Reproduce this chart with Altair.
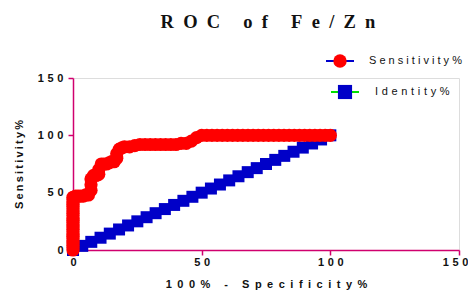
import altair as alt
import pandas as pd

# Sensitivity% (red) ROC points: (100% - Specificity%, Sensitivity%)
sens_x = [0, 0, 0, 0, 0, 0, 0, 0, 0, 0, 0, 0, 0, 0, 0, 0, 0, 0, 0, 0, 0, 0, 0, 0,
          1, 2, 3, 4, 5, 6, 7, 7, 7, 8, 9, 10, 10, 11, 12, 13, 14, 15, 16, 17, 17, 18, 19, 20,
          22, 24, 26, 28, 30, 32, 34, 36, 38, 40, 42, 44, 46, 48, 50,
          52, 54, 56, 58, 60, 62, 64, 66, 68, 70, 72, 74, 76, 78, 80, 82, 84, 86, 88, 90,
          92, 94, 96, 98, 100]
sens_y = [0, 2, 4, 6, 8, 10, 12, 14, 16, 18, 20, 22, 24, 26, 28, 30, 32, 34, 36, 38, 40, 42, 44, 46,
          47, 47, 47, 47, 48, 48, 52, 57, 62, 65, 65, 66, 70, 75, 75, 75, 76, 77, 77, 80, 84, 88, 89, 90,
          90, 91, 92, 92, 92, 92, 92, 92, 92, 92, 93, 93, 95, 98, 100,
          100, 100, 100, 100, 100, 100, 100, 100, 100, 100, 100, 100, 100, 100, 100, 100, 100, 100, 100, 100,
          100, 100, 100, 100, 100]

# Identity% (blue) diagonal
ident_x = [0, 3.6, 7.1, 10.7, 14.3, 17.9, 21.4, 25.0, 28.6, 32.1, 35.7, 39.3, 42.9, 46.4, 50.0,
           53.6, 57.1, 60.7, 64.3, 67.9, 71.4, 75.0, 78.6, 82.1, 85.7, 89.3, 92.9, 96.4, 100]
ident_y = [0, 3.6, 7.1, 10.7, 14.3, 17.9, 21.4, 25.0, 28.6, 32.1, 35.7, 39.3, 42.9, 46.4, 50.0,
           53.6, 57.1, 60.7, 64.3, 67.9, 71.4, 75.0, 78.6, 82.1, 85.7, 89.3, 92.9, 96.4, 100]

axis_ticks = [0, 50, 100, 150]
title_text = "ROC of Fe/Zn"
x_title = "100% - Specificity%"
y_title = "Sensitivity%"
legend_labels = ["Sensitivity%", "Identity%"]

EN = "\u2002"
THREE = "\u2004"
THIN = "\u2009"


def spaced(s, sep):
    return sep.join(s)


sens_df = pd.DataFrame({"x": sens_x, "y": sens_y})
ident_df = pd.DataFrame({"x": ident_x, "y": ident_y})

AX = "#D0006E"
RED = "#FF0000"
BLUE = "#0000C8"

xscale = alt.Scale(domain=[0, 150], nice=False, zero=False)
yscale = alt.Scale(domain=[0, 150], nice=False, zero=False)

label_expr = "join(split(datum.label, ''), '" + THREE + "')"

xaxis = alt.Axis(values=axis_ticks, grid=False, domainColor=AX, tickColor=AX, tickSize=5,
                 domainWidth=1.5, tickWidth=1.5, labelFlush=False,
                 labelAlign=alt.ExprRef("datum.value == 150 ? 'right' : 'center'"),
                 labelOffset=alt.ExprRef("datum.value == 150 ? 9 : 0"),
                 labelFont="Liberation Sans", labelFontWeight="bold", labelFontSize=11,
                 labelColor="#111111", labelPadding=1, labelExpr=label_expr,
                 title=spaced(x_title, EN), titleFont="Liberation Sans", titleFontWeight="bold",
                 titleFontSize=11, titleColor="#111111", titleY=34, titleBaseline="middle")
yaxis = alt.Axis(values=axis_ticks, grid=False, domainColor=AX, tickColor=AX, tickSize=5,
                 domainWidth=1.5, tickWidth=1.5, labelFlush=False,
                 labelFont="Liberation Sans", labelFontWeight="bold", labelFontSize=11,
                 labelColor="#111111", labelPadding=5, labelExpr=label_expr,
                 title=spaced(y_title, THIN), titleFont="Liberation Sans", titleFontWeight="bold",
                 titleFontSize=11, titleColor="#111111", titlePadding=13)

ident = alt.Chart(ident_df).mark_square(size=144, filled=True, color=BLUE, opacity=1).encode(
    x=alt.X("x:Q", scale=xscale, axis=xaxis),
    y=alt.Y("y:Q", scale=yscale, axis=yaxis),
)
sens = alt.Chart(sens_df).mark_circle(size=175, color=RED, opacity=1).encode(
    x=alt.X("x:Q", scale=xscale),
    y=alt.Y("y:Q", scale=yscale),
)

one = pd.DataFrame({"a": [0]})

title = alt.Chart(one).mark_text(
    text=spaced(title_text, EN), font="Liberation Serif", fontWeight="bold", fontSize=18.5,
    color="#111111", align="center", baseline="middle"
).encode(x=alt.value(195), y=alt.value(-56))

leg_line1 = alt.Chart(one).mark_rule(color="#0000CC", strokeWidth=2).encode(
    x=alt.value(253), x2=alt.value(281), y=alt.value(-17))
leg_dot1 = alt.Chart(one).mark_circle(size=180, color=RED, opacity=1).encode(
    x=alt.value(267), y=alt.value(-17))
leg_txt1 = alt.Chart(one).mark_text(
    text=spaced(legend_labels[0], " "), font="Liberation Sans", fontSize=11,
    color="#111111", align="left", baseline="middle"
).encode(x=alt.value(296), y=alt.value(-17))

leg_line2 = alt.Chart(one).mark_rule(color="#00E000", strokeWidth=2).encode(
    x=alt.value(258), x2=alt.value(286), y=alt.value(14))
leg_sq2 = alt.Chart(one).mark_square(size=200, color=BLUE, opacity=1, filled=True).encode(
    x=alt.value(272), y=alt.value(14))
leg_txt2 = alt.Chart(one).mark_text(
    text=spaced(legend_labels[1], THREE), font="Liberation Sans", fontSize=11,
    color="#111111", align="left", baseline="middle"
).encode(x=alt.value(302), y=alt.value(14))

chart = alt.layer(
    ident, sens, title, leg_line1, leg_dot1, leg_txt1, leg_line2, leg_sq2, leg_txt2
).properties(
    width=386, height=172,
    autosize=alt.AutoSizeParams(type="none"),
    padding={"left": 65, "top": 70, "right": 9, "bottom": 42},
).configure_view(stroke=None).configure(background="white")

chart.save("out.html", embed_options={"renderer": "svg", "actions": False})
